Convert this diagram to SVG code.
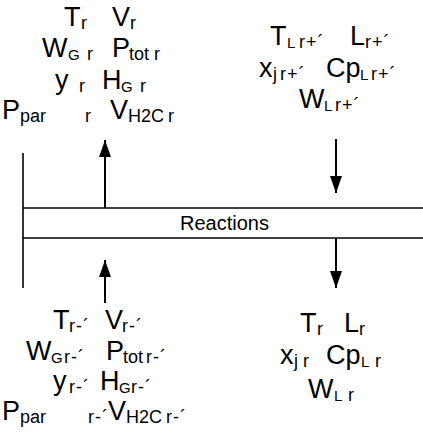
<svg xmlns="http://www.w3.org/2000/svg" width="423" height="437" viewBox="0 0 423 437">
  <style>
    text { font-family: "Liberation Sans", Arial, sans-serif; fill: #000; }
    .m { font-size: 27px; }
    .s { font-size: 18px; }
    .q { font-size: 18px; letter-spacing: 1px; }
    .g { font-size: 15px; }
    .lbl { font-size: 20px; }
    .ln { stroke: #000; stroke-width: 1.6; fill: none; }
    .ar { stroke: #000; stroke-width: 2; fill: none; marker-end: url(#head); }
  </style>
  <defs>
    <marker id="head" markerUnits="userSpaceOnUse" markerWidth="18" markerHeight="14" refX="17" refY="6" orient="auto">
      <path d="M0,0 L17,6 L0,12 Z" fill="#000"/>
    </marker>
  </defs>

  <!-- reaction band -->
  <g id="reactions">
    <line class="ln" x1="23" y1="153" x2="23" y2="288" stroke-width="2"/>
    <line class="ln" x1="23" y1="208" x2="423" y2="208"/>
    <line class="ln" x1="23" y1="238" x2="423" y2="238"/>
    <text class="lbl" x="180" y="230">Reactions</text>
  </g>

  <!-- flows -->
  <g id="connectors">
    <line class="ar" x1="105" y1="208" x2="105" y2="140"/>
    <line class="ar" x1="336" y1="139" x2="336" y2="193"/>
    <line class="ar" x1="336" y1="238" x2="336" y2="288"/>
    <line class="ar" x1="105" y1="303" x2="105" y2="260"/>
  </g>

  <!-- gas stream leaving stage r -->
  <g id="gas-out">
    <text><tspan class="m" x="64" y="26">T</tspan><tspan class="s" x="81" y="29">r</tspan><tspan class="m" x="112" y="26">V</tspan><tspan class="s" x="130" y="29">r</tspan></text>
    <text><tspan class="m" x="42" y="57">W</tspan><tspan class="g" x="68" y="60">G</tspan><tspan class="s" x="87" y="60">r</tspan><tspan class="m" x="112" y="57">P</tspan><tspan class="s" x="129" y="60">tot</tspan><tspan class="s" x="154" y="60">r</tspan></text>
    <text><tspan class="m" x="55" y="89">y</tspan><tspan class="s" x="79" y="92">r</tspan><tspan class="m" x="102" y="89">H</tspan><tspan class="g" x="121" y="92">G</tspan><tspan class="s" x="140" y="92">r</tspan></text>
    <text><tspan class="m" x="2" y="119">P</tspan><tspan class="s" x="20" y="122">par</tspan><tspan class="s" x="85" y="122">r</tspan><tspan class="m" x="110" y="119">V</tspan><tspan class="s" x="128" y="122">H2C</tspan><tspan class="s" x="168" y="122">r</tspan></text>
  </g>

  <!-- liquid stream entering stage r -->
  <g id="liquid-in">
    <text><tspan class="m" x="270" y="45">T</tspan><tspan class="g" x="287" y="48">L</tspan><tspan class="q" x="299" y="48">r+´</tspan><tspan class="m" x="350" y="45">L</tspan><tspan class="q" x="365" y="48">r+´</tspan></text>
    <text><tspan class="m" x="259" y="77">x</tspan><tspan class="s" x="273" y="80">j</tspan><tspan class="q" x="280" y="80">r+´</tspan><tspan class="m" x="326" y="77">Cp</tspan><tspan class="g" x="360" y="80">L</tspan><tspan class="q" x="371" y="80">r+´</tspan></text>
    <text><tspan class="m" x="299" y="108">W</tspan><tspan class="g" x="324" y="111">L</tspan><tspan class="q" x="335" y="111">r+´</tspan></text>
  </g>

  <!-- gas stream entering stage r -->
  <g id="gas-in">
    <text><tspan class="m" x="53" y="329">T</tspan><tspan class="q" x="69" y="332">r-´</tspan><tspan class="m" x="105" y="329">V</tspan><tspan class="q" x="122" y="332">r-´</tspan></text>
    <text><tspan class="m" x="26" y="360">W</tspan><tspan class="g" x="51" y="363">G</tspan><tspan class="q" x="64" y="363">r-´</tspan><tspan class="m" x="106" y="360">P</tspan><tspan class="s" x="123" y="363">tot</tspan><tspan class="q" x="146" y="363">r-´</tspan></text>
    <text><tspan class="m" x="53" y="390">y</tspan><tspan class="q" x="69" y="393">r-´</tspan><tspan class="m" x="100" y="390">H</tspan><tspan class="g" x="119" y="393">G</tspan><tspan class="q" x="131" y="393">r-´</tspan></text>
    <text><tspan class="m" x="2" y="420">P</tspan><tspan class="s" x="20" y="423">par</tspan><tspan class="q" x="88" y="423">r-´</tspan><tspan class="m" x="108" y="420">V</tspan><tspan class="s" x="126" y="423">H2C</tspan><tspan class="q" x="166" y="423">r-´</tspan></text>
  </g>

  <!-- liquid stream leaving stage r -->
  <g id="liquid-out">
    <text><tspan class="m" x="300" y="332">T</tspan><tspan class="s" x="317" y="335">r</tspan><tspan class="m" x="344" y="332">L</tspan><tspan class="s" x="359" y="335">r</tspan></text>
    <text><tspan class="m" x="280" y="364">x</tspan><tspan class="s" x="294" y="367">j</tspan><tspan class="s" x="303" y="367">r</tspan><tspan class="m" x="326" y="364">Cp</tspan><tspan class="g" x="361" y="367">L</tspan><tspan class="s" x="375" y="367">r</tspan></text>
    <text><tspan class="m" x="308" y="398">W</tspan><tspan class="g" x="334" y="401">L</tspan><tspan class="s" x="348" y="401">r</tspan></text>
  </g>
</svg>
